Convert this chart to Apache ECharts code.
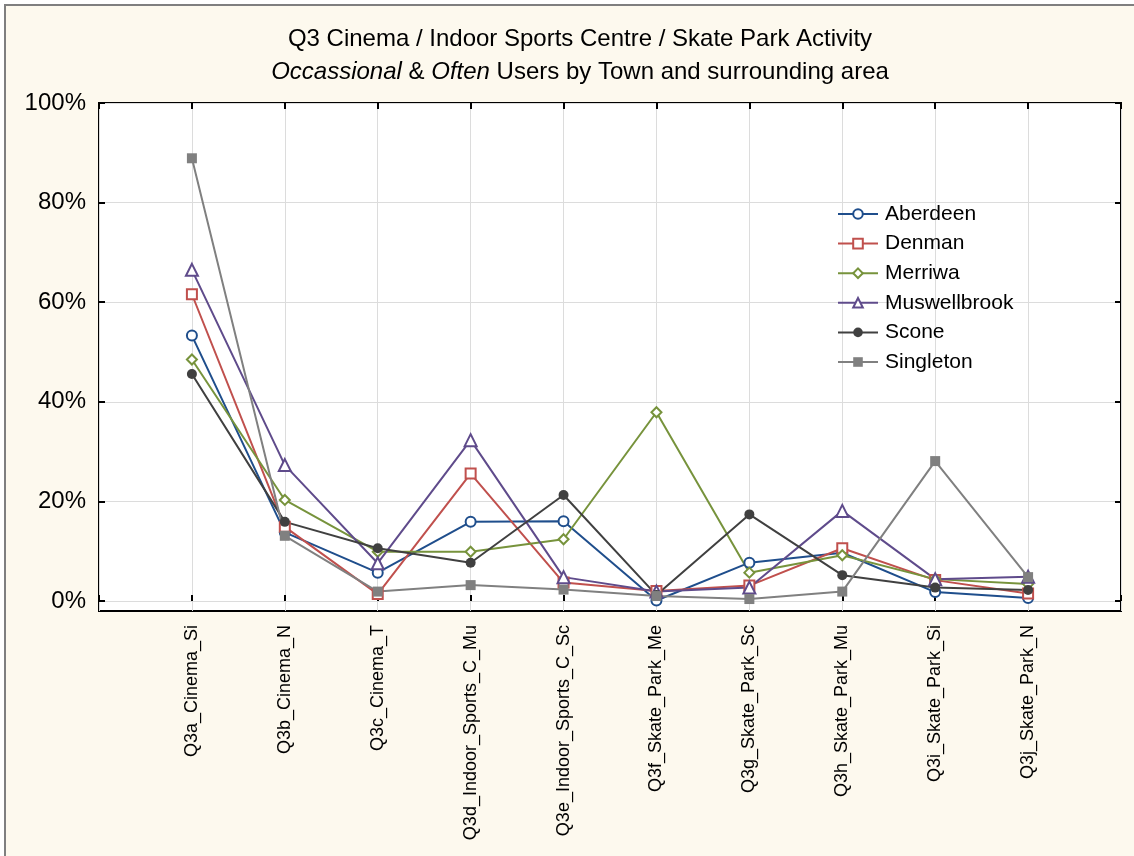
<!DOCTYPE html>
<html>
<head>
<meta charset="utf-8">
<script src="https://cdn.jsdelivr.net/npm/echarts@6/dist/echarts.min.js"></script>
<style>
  html, body { margin: 0; padding: 0; background: #fff; }
  #chart { width: 1134px; height: 856px; }
</style>
</head>
<body>
<div id="chart"></div>
<script>
// categories on the x axis
var categories = ['Q3a_Cinema_Si', 'Q3b_Cinema_N', 'Q3c_Cinema_T', 'Q3d_Indoor_Sports_C_Mu',
  'Q3e_Indoor_Sports_C_Sc', 'Q3f_Skate_Park_Me', 'Q3g_Skate_Park_Sc', 'Q3h_Skate_Park_Mu',
  'Q3i_Skate_Park_Si', 'Q3j_Skate_Park_N']

// percent of occasional + often users, per town
var aberdeen = [53.3, 13.8, 5.7, 15.9, 16.0, 0.1, 7.7, 9.7, 1.8, 0.6]
var denman = [61.6, 14.9, 1.4, 25.6, 3.7, 2.0, 3.1, 10.6, 4.2, 1.5]
var merriwa = [48.5, 20.3, 9.9, 9.9, 12.4, 37.9, 5.7, 9.2, 4.4, 3.4]
var muswellbrook = [66.5, 27.3, 7.6, 32.3, 4.8, 1.9, 2.7, 18.1, 4.4, 4.9]
var scone = [45.6, 15.9, 10.6, 7.7, 21.3, 1.2, 17.4, 5.2, 2.7, 2.2]
var singleton = [88.9, 13.1, 1.9, 3.2, 2.3, 1.0, 0.4, 1.9, 28.1, 4.8]

var yTicks = [0, 20, 40, 60, 80, 100]

var towns = [
  { name: 'Aberdeen', data: aberdeen, color: '#1f4e8c', symbol: 'emptyCircle' },
  { name: 'Denman', data: denman, color: '#c0504d', symbol: 'emptyRect' },
  { name: 'Merriwa', data: merriwa, color: '#77933c', symbol: 'emptyDiamond' },
  { name: 'Muswellbrook', data: muswellbrook, color: '#5f4b8b', symbol: 'emptyTriangle' },
  { name: 'Scone', data: scone, color: '#404040', symbol: 'circle' },
  { name: 'Singleton', data: singleton, color: '#808080', symbol: 'rect' }
]

// one empty slot either side of the categories
var xData = [''].concat(categories, [''])

var chart = echarts.init(document.getElementById('chart'))
var font = 'Liberation Sans, Arial, sans-serif'

var option = {
  backgroundColor: '#fff',
  animation: false,
  textStyle: { fontFamily: font },
  graphic: [{
    type: 'rect',
    z: -10,
    shape: { x: 5, y: 5, width: 1140, height: 860 },
    style: { fill: '#fdf9ee', stroke: '#7f7f7f', lineWidth: 2 }
  }],
  title: {
    left: 575,
    top: 18,
    textAlign: 'center',
    itemGap: 0,
    text: 'Q3 Cinema / Indoor Sports Centre / Skate Park Activity\n{i|Occassional} & {i|Often} Users by Town and surrounding area',
    textStyle: {
      fontFamily: font,
      fontSize: 24,
      fontWeight: 'normal',
      color: '#000',
      lineHeight: 33,
      rich: {
        i: { fontFamily: font, fontSize: 24, fontStyle: 'italic', color: '#000', lineHeight: 33 }
      }
    }
  },
  legend: {
    orient: 'vertical',
    left: 832,
    top: 198,
    itemWidth: 40,
    itemHeight: 12,
    itemGap: 7.6,
    textStyle: { fontFamily: font, fontSize: 21, color: '#000', lineHeight: 22, padding: [0, 0, 0, 2] },
    data: towns.map(function (t) { return t.name })
  },
  grid: [
    // frame, goes a little below 0%
    { left: 99, right: 13, top: 103, bottom: 245, show: true, backgroundColor: '#fff', borderColor: '#000', borderWidth: 2 },
    // scale for the percent ticks
    { left: 99, right: 13, top: 103, bottom: 255 }
  ],
  xAxis: [
    {
      gridIndex: 0, type: 'category', data: xData, boundaryGap: false, position: 'bottom',
      axisLine: { show: false },
      axisTick: { inside: true, length: 6, lineStyle: { color: '#000', width: 2 }, interval: 0 },
      axisLabel: { rotate: 90, margin: 14, interval: 0, fontSize: 18, color: '#000', fontFamily: font },
      splitLine: { show: true, interval: 0, lineStyle: { color: '#dcdcdc', width: 1 } }
    },
    {
      gridIndex: 0, type: 'category', data: xData, boundaryGap: false, position: 'top',
      axisLine: { show: false },
      axisTick: { inside: true, length: 6, lineStyle: { color: '#000', width: 2 }, interval: 0 },
      axisLabel: { show: false }
    },
    { gridIndex: 1, type: 'category', data: xData, boundaryGap: false, show: false }
  ],
  yAxis: [
    { gridIndex: 0, type: 'value', min: -2, max: 100, show: false, splitLine: { show: false } },
    {
      gridIndex: 1, type: 'value', min: 0, max: 100, interval: 20, position: 'left',
      axisLine: { show: false },
      axisTick: { show: true, inside: true, length: 6, lineStyle: { color: '#000', width: 2 } },
      axisLabel: { margin: 13, fontSize: 24, color: '#000', fontFamily: font,
        formatter: function (v) { return yTicks.indexOf(v) >= 0 ? v + '%' : '' } },
      splitLine: { show: true, lineStyle: { color: '#dcdcdc', width: 1 } }
    },
    {
      gridIndex: 1, type: 'value', min: 0, max: 100, interval: 20, position: 'right',
      axisLine: { show: false },
      axisTick: { show: true, inside: true, length: 6, lineStyle: { color: '#000', width: 2 } },
      axisLabel: { show: false },
      splitLine: { show: false }
    }
  ],
  series: towns.map(function (t) {
    return {
      name: t.name,
      type: 'line',
      xAxisIndex: 0,
      yAxisIndex: 0,
      data: [null].concat(t.data, [null]),
      symbol: t.symbol,
      symbolSize: t.symbol === 'emptyTriangle' ? 12 : 10,
      color: t.color,
      lineStyle: { color: t.color, width: 2 },
      itemStyle: { color: t.color, borderWidth: 2 }
    }
  })
}

chart.setOption(option)
</script>
</body>
</html>
